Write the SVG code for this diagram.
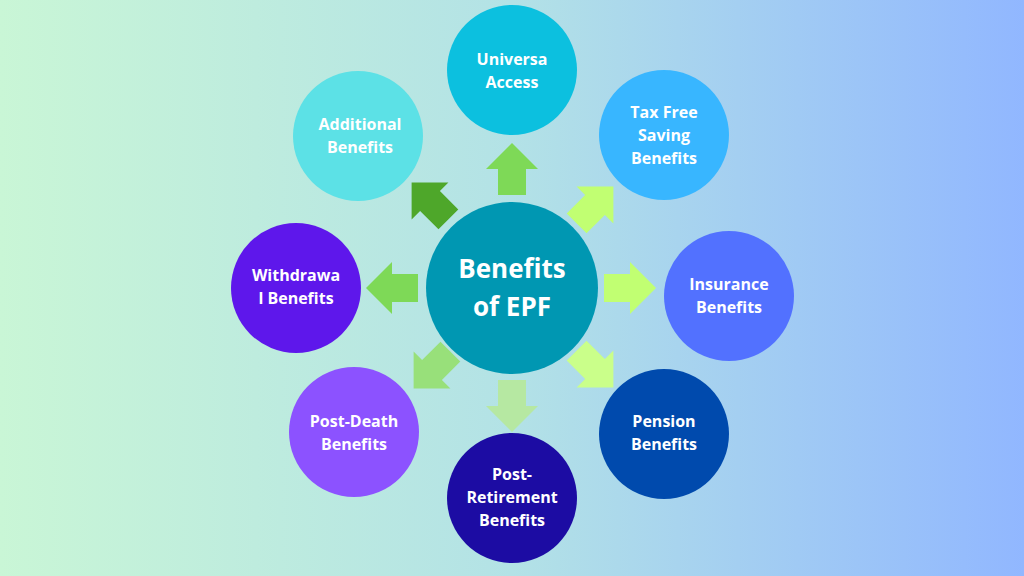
<svg xmlns="http://www.w3.org/2000/svg" width="1024" height="576" viewBox="0 0 1024 576">
<defs>
<linearGradient id="bg" x1="0" y1="0" x2="1" y2="0"><stop offset="0" stop-color="#c9f6d6"/><stop offset="0.5" stop-color="#b3e2e6"/><stop offset="1" stop-color="#91b7ff"/></linearGradient>
<path id="arr" d="M-26,-14 H0 V-26 L26,0 L0,26 V14 H-26 Z"/>
</defs>
<style>
text{font-family:"Open Sans","Liberation Sans",sans-serif;font-weight:700;fill:#fff;text-anchor:middle}
.t{font-size:16px}
.c{font-size:26px}
</style>
<rect width="1024" height="576" fill="url(#bg)"/>
<g id="connectors">
<use href="#arr" transform="translate(512,169) rotate(-90)" fill="#7ed957"/>
<use href="#arr" transform="translate(430,201) rotate(-135)" fill="#4ea72a"/>
<use href="#arr" transform="translate(595,205) rotate(-45)" fill="#c1ff72"/>
<use href="#arr" transform="translate(392,288) rotate(180)" fill="#7ed957"/>
<use href="#arr" transform="translate(630,288)" fill="#c1ff72"/>
<use href="#arr" transform="translate(595,369) rotate(45)" fill="#caff8a"/>
<use href="#arr" transform="translate(512,406) rotate(90)" fill="#b6e8a2"/>
<use href="#arr" transform="translate(432,370) rotate(135)" fill="#98e07a"/>
</g>
<g id="center"><circle cx="512" cy="288" r="86" fill="#0097b2"/><text class="c" x="512" y="278">Benefits</text><text class="c" x="512" y="316">of EPF</text></g>
<g id="universal"><circle cx="512" cy="70" r="65" fill="#0cc0df"/><text class="t" x="512" y="65">Universa</text><text class="t" x="512" y="88">Access</text></g>
<g id="taxfree"><circle cx="664" cy="135" r="65" fill="#38b6ff"/><text class="t" x="664" y="118">Tax Free</text><text class="t" x="664" y="141">Saving</text><text class="t" x="664" y="164">Benefits</text></g>
<g id="insurance"><circle cx="729" cy="296" r="65" fill="#5271ff"/><text class="t" x="729" y="290">Insurance</text><text class="t" x="729" y="313">Benefits</text></g>
<g id="pension"><circle cx="664" cy="434" r="65" fill="#004aad"/><text class="t" x="664" y="427">Pension</text><text class="t" x="664" y="450">Benefits</text></g>
<g id="postretirement"><circle cx="512" cy="498" r="65" fill="#1c0ca3"/><text class="t" x="512" y="480">Post-</text><text class="t" x="512" y="503">Retirement</text><text class="t" x="512" y="526">Benefits</text></g>
<g id="postdeath"><circle cx="354" cy="432" r="65" fill="#8c52ff"/><text class="t" x="354" y="427">Post-Death</text><text class="t" x="354" y="450">Benefits</text></g>
<g id="withdrawal"><circle cx="296" cy="288" r="65" fill="#5e17eb"/><text class="t" x="296" y="281">Withdrawa</text><text class="t" x="296" y="304">l Benefits</text></g>
<g id="additional"><circle cx="358" cy="136" r="65" fill="#5ce1e6"/><text class="t" x="360" y="130">Additional</text><text class="t" x="360" y="153">Benefits</text></g>
</svg>
